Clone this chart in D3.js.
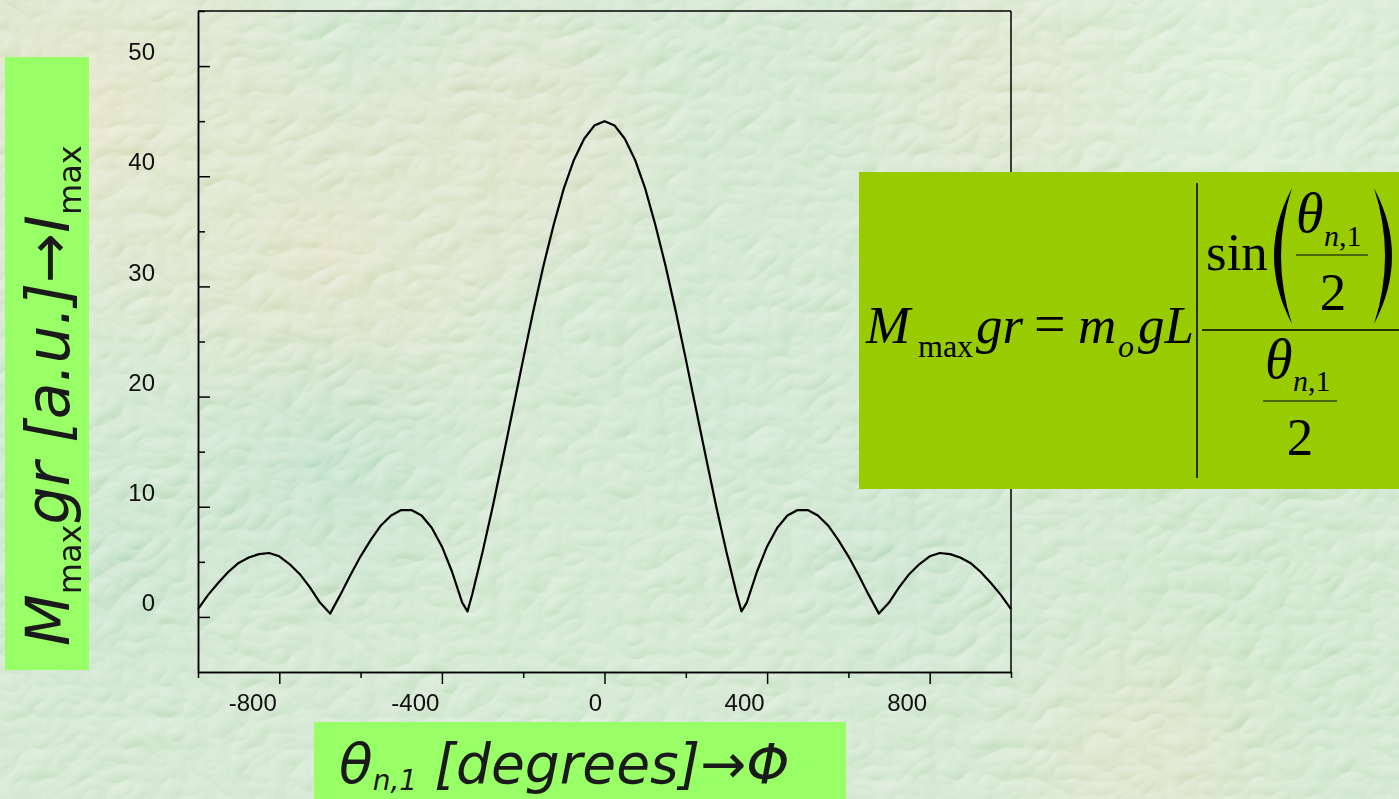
<!DOCTYPE html>
<html><head><meta charset="utf-8">
<script src="https://cdn.jsdelivr.net/npm/d3@7"></script>
<style>html,body{margin:0;padding:0;overflow:hidden;background:#b3d6ae}</style>
</head><body>
<svg id="c" width="1399" height="799" xmlns="http://www.w3.org/2000/svg"></svg>
<script>
// ---- data ----
const thetaDeg = [-1000,-975,-950,-925,-900,-875,-850,-825,-800,-775,-750,-725,-700,-675,-650,-625,-600,-575,-550,-525,-500,-475,-450,-425,-400,-375,-350,-337,-325,-300,-275,-250,-225,-200,-175,-150,-125,-100,-75,-50,-25,0,
  25,50,75,100,125,150,175,200,225,250,275,300,325,337,350,375,400,425,450,475,500,525,550,575,600,625,650,675,700,725,750,775,800,825,850,875,900,925,950,975,1000];
const torque = [0.7,2.0,3.1,4.1,4.9,5.4,5.7,5.8,5.5,4.8,3.9,2.7,1.3,0.3,2.0,3.8,5.5,7.0,8.3,9.2,9.7,9.7,9.2,8.1,6.4,4.1,1.3,0.5,2.1,5.9,10.0,14.4,18.9,23.4,27.8,31.9,35.6,38.9,41.5,43.4,44.6,45.0,
  44.6,43.4,41.5,38.9,35.6,31.9,27.8,23.4,18.9,14.4,10.0,5.9,2.1,0.5,1.3,4.1,6.4,8.1,9.2,9.7,9.7,9.2,8.3,7.0,5.5,3.8,2.0,0.3,1.3,2.7,3.9,4.8,5.5,5.8,5.7,5.4,4.9,4.1,3.1,2.0,0.7];
const xTickValues = [-800,-400,0,400,800];
const xMinorTicks = [-1000,-600,-200,200,600,1000];
const yTickValues = [0,10,20,30,40,50];
const yMinorTicks = [5,15,25,35,45,55];
const xDomain = [-1000,1000];
const yDomain = [-5,55];

const W = 1399, H = 799;
const svg = d3.select("#c");
const defs = svg.append("defs");

// ---- background ----
svg.append("rect").attr("width",W).attr("height",H).attr("fill","#b3d6ae");
const blobs = [
  {cx:80, cy:110, r:260, c:"#d8d0a0", o:0.85},
  {cx:330, cy:250, r:210, c:"#d8cd9c", o:0.7},
  {cx:520, cy:150, r:170, c:"#d6cc9e", o:0.6},
  {cx:330, cy:470, r:170, c:"#86c7a2", o:0.55},
  {cx:120, cy:560, r:180, c:"#8fcba0", o:0.5},
  {cx:720, cy:420, r:200, c:"#a0d3ad", o:0.45},
  {cx:1250, cy:80, r:260, c:"#cfeac3", o:0.6},
  {cx:1000, cy:90, r:180, c:"#dad3a8", o:0.45},
  {cx:1250, cy:620, r:220, c:"#9fd49c", o:0.5},
  {cx:1150, cy:760, r:170, c:"#d6cf9c", o:0.5},
  {cx:560, cy:640, r:200, c:"#acd9ad", o:0.45},
  {cx:900, cy:560, r:160, c:"#93cca6", o:0.45}
];
blobs.forEach((b,i)=>{
  const g = defs.append("radialGradient").attr("id","bg"+i);
  g.append("stop").attr("offset","0%").attr("stop-color",b.c).attr("stop-opacity",b.o);
  g.append("stop").attr("offset","100%").attr("stop-color",b.c).attr("stop-opacity",0);
  svg.append("circle").attr("cx",b.cx).attr("cy",b.cy).attr("r",b.r).attr("fill",`url(#bg${i})`);
});
const f = defs.append("filter").attr("id","tex").attr("x",0).attr("y",0).attr("width","100%").attr("height","100%");
f.append("feTurbulence").attr("type","turbulence").attr("baseFrequency","0.024 0.032").attr("numOctaves",2).attr("seed",7).attr("result","t");
const dl = f.append("feDiffuseLighting").attr("in","t").attr("surfaceScale",2.6).attr("lighting-color","#ffffff").attr("result","l");
dl.append("feDistantLight").attr("azimuth",235).attr("elevation",48);
svg.append("rect").attr("width",W).attr("height",H).attr("filter","url(#tex)")
  .style("mix-blend-mode","overlay").attr("opacity",0.65);

// ---- scales ----
const x = d3.scaleLinear().domain(xDomain).range([198,1011]);
const y = d3.scaleLinear().domain(yDomain).range([672,11]);
const fmt = d => String(d);
const tickFont = "'Liberation Sans',Arial,sans-serif";

const plot = svg.append("g");
plot.append("line").attr("x1",x(xDomain[0])).attr("x2",x(xDomain[1])).attr("y1",y(yDomain[1])).attr("y2",y(yDomain[1])).attr("stroke","#000").attr("stroke-width",1.5);
plot.append("line").attr("x1",x(xDomain[1])).attr("x2",x(xDomain[1])).attr("y1",y(yDomain[1])).attr("y2",y(yDomain[0])).attr("stroke","#000").attr("stroke-width",1.5);

const yAx = plot.append("g").attr("transform",`translate(${x(xDomain[0])},0)`)
  .call(d3.axisLeft(y).tickValues(yTickValues).tickFormat(fmt).tickSize(-12).tickPadding(43).tickSizeOuter(0));
const yMin = plot.append("g").attr("transform",`translate(${x(xDomain[0])},0)`)
  .call(d3.axisLeft(y).tickValues(yMinorTicks).tickSize(-7).tickFormat("").tickSizeOuter(0));
yAx.selectAll("text").attr("y",-14).attr("font-family",tickFont).attr("font-size",24).attr("fill","#111");

const xAx = plot.append("g").attr("transform",`translate(0,${y(yDomain[0])})`)
  .call(d3.axisBottom(x).tickValues(xTickValues).tickFormat(fmt).tickSize(12).tickSizeOuter(0));
const xMin = plot.append("g").attr("transform",`translate(0,${y(yDomain[0])})`)
  .call(d3.axisBottom(x).tickValues(xMinorTicks).tickSize(6).tickFormat("").tickSizeOuter(0));
xAx.selectAll("text").attr("y",39).attr("dy",0).attr("x",-3).attr("text-anchor","end")
  .attr("font-family",tickFont).attr("font-size",24).attr("fill","#111");
[yAx,yMin,xAx,xMin].forEach(a=>{
  a.selectAll(".domain").attr("stroke","#000").attr("stroke-width",1.5);
  a.selectAll(".tick line").attr("stroke","#000").attr("stroke-width",1.5);
});

const pts = thetaDeg.map((t,i)=>[t,torque[i]]);
plot.append("path").datum(pts)
  .attr("d", d3.line().x(d=>x(d[0])).y(d=>y(d[1])))
  .attr("fill","none").attr("stroke","#000").attr("stroke-width",2.2).attr("stroke-linejoin","round");

// ---- y label box ----
svg.append("rect").attr("x",5).attr("y",57).attr("width",84).attr("height",613).attr("fill","#99ff66");
const yl = svg.append("text").attr("transform","translate(69,646) rotate(-90)")
  .attr("font-family","'DejaVu Sans',Verdana,sans-serif").attr("font-size",60).attr("fill","#1a1a1a");
yl.append("tspan").attr("font-style","italic").text("M");
yl.append("tspan").attr("font-size",32).attr("dy",12).text("max");
yl.append("tspan").attr("font-style","italic").attr("dy",-12).text("gr [a.u.]\u2192I");
yl.append("tspan").attr("font-size",32).attr("dy",12).text("max");

// ---- x label box ----
svg.append("rect").attr("x",314).attr("y",722).attr("width",532).attr("height",77).attr("fill","#99ff66");
const xl = svg.append("text").attr("x",339).attr("y",783)
  .attr("font-family","'DejaVu Sans',Verdana,sans-serif").attr("font-size",55).attr("fill","#1a1a1a").attr("font-style","italic");
xl.append("tspan").text("\u03B8");
xl.append("tspan").attr("font-size",28).attr("dy",7).text("n,1");
xl.append("tspan").attr("dy",-7).text(" [degrees]\u2192\u03A6");

// ---- formula box ----
svg.append("rect").attr("x",859).attr("y",172).attr("width",540).attr("height",317).attr("fill","#99cc00");
const fm = svg.append("g").attr("font-family","'Liberation Serif','Times New Roman',serif").attr("fill","#000");
const T = (tx,ty,s,size,ital,anchor)=>fm.append("text").attr("x",tx).attr("y",ty).attr("font-size",size)
  .attr("font-style",ital?"italic":"normal").attr("text-anchor",anchor||"start").text(s);
const Sub = (tx,ty)=>{const t=fm.append("text").attr("x",tx).attr("y",ty).attr("font-size",30);
  t.append("tspan").attr("font-style","italic").text("n");t.append("tspan").text(",1");};
T(866,343,"M",53,true);
T(918,357,"max",32,false);
T(976,343,"gr",53,true);
T(1034,343,"=",56,false);
T(1078,343,"m",53,true);
T(1118,357,"o",32,true);
T(1138,343,"gL",53,true);
fm.append("line").attr("x1",1197).attr("x2",1197).attr("y1",183).attr("y2",478).attr("stroke","#000").attr("stroke-width",1.5);
fm.append("line").attr("x1",1202).attr("x2",1399).attr("y1",330).attr("y2",330).attr("stroke","#000").attr("stroke-width",1.5);
T(1206,270,"sin",53,false);
fm.append("path").attr("d","M1292,188 Q1256,256 1292,324 Q1270,256 1292,188 Z");
fm.append("path").attr("d","M1374,188 Q1410,256 1374,324 Q1396,256 1374,188 Z");
T(1296,232,"\u03B8",56,true);
Sub(1324,246);
fm.append("line").attr("x1",1296).attr("x2",1368).attr("y1",255).attr("y2",255).attr("stroke","#000").attr("stroke-width",1.2);
T(1333,310,"2",53,false,"middle");
T(1265,378,"\u03B8",56,true);
Sub(1293,391);
fm.append("line").attr("x1",1263).attr("x2",1337).attr("y1",401).attr("y2",401).attr("stroke","#000").attr("stroke-width",1.2);
T(1300,455,"2",53,false,"middle");
</script>
</body></html>
